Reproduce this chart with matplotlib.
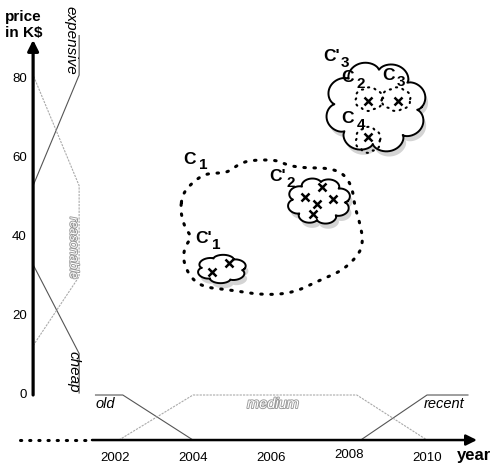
import numpy as np
import matplotlib.pyplot as plt
import matplotlib.patheffects as pe

plt.rcParams['font.family'] = ['Liberation Sans', 'DejaVu Sans']

# fuzzy sets on the price axis (price in K$, membership)
cheap_p = [0.5, 10.5, 33]
cheap_mu = [1, 1, 0]
reason_p = [12.5, 30, 53, 81]
reason_mu = [0, 1, 1, 0]
exp_p = [53, 81, 91]
exp_mu = [0, 1, 1]
price_ticks = [0, 20, 40, 60, 80]

# fuzzy sets on the year axis (year, membership)
old_y = [2001.5, 2002.2, 2004.0]
old_mu = [1, 1, 0]
med_y = [2002.1, 2004.0, 2008.2, 2010.0]
med_mu = [0, 1, 1, 0]
rec_y = [2008.3, 2010.0, 2011.05]
rec_mu = [0, 1, 1]
year_ticks = [2002, 2004, 2006, 2008, 2010]

# records (year, price)
pts_c1a_x = [2004.49, 2004.92]
pts_c1a_y = [31.1, 33.4]
pts_c2a_x = [2007.31, 2006.87, 2007.18, 2007.59, 2007.08]
pts_c2a_y = [52.7, 50.1, 48.4, 49.6, 45.8]
pts_c3a_x = [2008.49, 2009.26, 2008.49]
pts_c3a_y = [74.4, 74.4, 65.3]

# cluster C1 outline (year, price)
c1_x = [2003.67, 2003.74, 2004.00, 2004.26, 2004.51, 2004.87, 2005.21, 2005.54,
        2006.15, 2006.41, 2006.82, 2007.44, 2007.85, 2008.08, 2008.15, 2008.28,
        2008.36, 2008.28, 2007.85, 2007.26, 2006.56, 2005.79, 2004.95, 2004.26,
        2003.92, 2003.74, 2003.79, 2003.97, 2003.79]
c1_y = [46.8, 51.1, 53.9, 55.7, 56.2, 56.2, 58.7, 59.5,
        59.5, 58.2, 57.5, 57.5, 56.2, 52.7, 47.6, 43.5,
        39.2, 35.9, 31.6, 29.1, 25.8, 25.3, 26.6, 27.3,
        29.9, 34.2, 37.5, 40.0, 42.3]

# cloud clusters: centre year, centre price, half width (yr), half height (K$), bumps
clouds = [(2004.74, 31.9, 0.64, 3.6, 6),
          (2007.23, 49.1, 0.82, 5.9, 8),
          (2008.69, 72.9, 1.31, 11.6, 8)]
subclouds = [(2008.51, 74.9, 0.36, 3.0, 6),
             (2009.21, 74.9, 0.38, 3.0, 6),
             (2008.49, 64.6, 0.33, 3.3, 6)]

labels = [("C", "1", 2003.92, 59.7), ("C'", "1", 2004.26, 39.5),
          ("C'", "2", 2006.18, 55.2), ("C'", "3", 2007.56, 85.6),
          ("C", "2", 2007.95, 80.3), ("C", "3", 2009.00, 80.8),
          ("C", "4", 2007.97, 69.9)]

x0 = 1999.90    # price axis position
w = 1.18        # membership 1 width (years)
y0 = -11.4      # year axis position
h = 11.4        # membership 1 height (K$)


def smooth(x, y, it=3):
    p = np.column_stack([x, y])
    for _ in range(it):
        q = np.roll(p, -1, axis=0)
        n = np.empty((2 * len(p), 2))
        n[0::2] = 0.75 * p + 0.25 * q
        n[1::2] = 0.25 * p + 0.75 * q
        p = n
    p = np.vstack([p, p[:1]])
    return p[:, 0], p[:, 1]


def cloud(cx, cy, hw, hh, n, a=0.2):
    t = np.linspace(0, 2 * np.pi, 600)
    r = 1 - a + a * np.abs(np.sin(n * t / 2 + 0.3)) ** 0.6
    return cx + hw * r * np.cos(t), cy + hh * r * np.sin(t)


fig = plt.figure(figsize=(4.96, 4.68), dpi=100)
ax = fig.add_axes([0, 0, 1, 1])
ax.set_xlim(1999.051, 2011.769)
ax.set_ylim(-18.48, 100)
ax.axis('off')

# axes
ax.annotate('', xy=(x0, 89.9), xytext=(x0, 0),
            arrowprops=dict(arrowstyle='-|>', lw=2.3, color='k', mutation_scale=16, shrinkA=0, shrinkB=0))
ax.annotate('', xy=(2011.28, y0), xytext=(2001.41, y0),
            arrowprops=dict(arrowstyle='-|>', lw=1.8, color='k', mutation_scale=16, shrinkA=0, shrinkB=0))
ax.plot([1999.56, 2001.36], [y0, y0], color='k', lw=2.2, linestyle=(0, (0.4, 2.6)),
        dash_capstyle='round')

for p in price_ticks:
    ax.text(x0 - 0.16, p, str(p), ha='right', va='center', fontsize=9.5)
for yr in year_ticks:
    ax.text(yr, -15.9 + (0.8 if yr == 2008 else 0), str(yr), ha='center', va='center', fontsize=9.5)
ax.text(2011.21, -15.2, 'year', ha='center', va='center', fontsize=12, fontweight='bold')
ax.text(1999.18, 97.5, 'price\nin K$', ha='left', va='top', fontsize=11, fontweight='bold',
        linespacing=1.15)

# membership functions
dark = dict(color='#555555', lw=0.8)
light = dict(color='#aaaaaa', lw=0.8, linestyle=(0, (2, 1)))
ax.plot(x0 + w * np.array(cheap_mu), cheap_p, **dark)
ax.plot(x0 + w * np.array(exp_mu), exp_p, **dark)
ax.plot(x0 + w * np.array(reason_mu), reason_p, **light)
ax.plot(old_y, y0 + h * np.array(old_mu), **dark)
ax.plot(rec_y, y0 + h * np.array(rec_mu), **dark)
ax.plot(med_y, y0 + h * np.array(med_mu), **light)

hollow = [pe.withStroke(linewidth=1.3, foreground='#999999')]
ax.text(x0 + w - 0.22, 89.8, 'expensive', rotation=-90, ha='center', va='center',
        fontsize=11, style='italic')
ax.text(x0 + w - 0.15, 37.2, 'reasonable', rotation=-90, ha='center', va='center',
        fontsize=9, style='italic', color='white', path_effects=hollow)
ax.text(x0 + w - 0.15, 5.8, 'cheap', rotation=-90, ha='center', va='center',
        fontsize=11, style='italic')
ax.text(2001.75, -2.3, 'old', ha='center', va='center', fontsize=10.5, style='italic')
ax.text(2006.05, -2.3, 'medium', ha='center', va='center', fontsize=10.5, style='italic',
        color='white', path_effects=hollow)
ax.text(2010.45, -2.3, 'recent', ha='center', va='center', fontsize=10.5, style='italic')

# cluster shadows
for cx, cy, hw, hh, n in clouds:
    sx, sy = cloud(cx + 0.07, cy - 1.3, hw, hh, n)
    ax.fill(sx, sy, color='#d4d4d4', lw=0, zorder=1)

# cluster C1
bx, by = smooth(c1_x, c1_y)
ax.plot(bx, by, color='k', lw=2.2, linestyle=(0, (0.5, 2.8)), dash_capstyle='round', zorder=2)

# clouds
for cx, cy, hw, hh, n in clouds:
    sx, sy = cloud(cx, cy, hw, hh, n)
    ax.fill(sx, sy, color='white', zorder=3)
    ax.plot(sx, sy, color='k', lw=1.4, zorder=4)
for cx, cy, hw, hh, n in subclouds:
    sx, sy = cloud(cx, cy, hw, hh, n, a=0.12)
    ax.plot(sx, sy, color='k', lw=1.5, linestyle=(0, (0.6, 2.6)), dash_capstyle='round', zorder=4)

for xs, ys in [(pts_c1a_x, pts_c1a_y), (pts_c2a_x, pts_c2a_y), (pts_c3a_x, pts_c3a_y)]:
    ax.plot(xs, ys, 'kx', ms=5.5, mew=1.8, zorder=5)

for main, sub, lx, ly in labels:
    ax.text(lx, ly, main, ha='center', va='center', fontsize=12.5, fontweight='bold', zorder=6)
    ax.annotate(sub, xy=(lx, ly), xytext=(9.5, -4.5), textcoords='offset points',
                ha='center', va='center', fontsize=11, fontweight='bold', zorder=6)

plt.savefig('out.png', dpi=100)
